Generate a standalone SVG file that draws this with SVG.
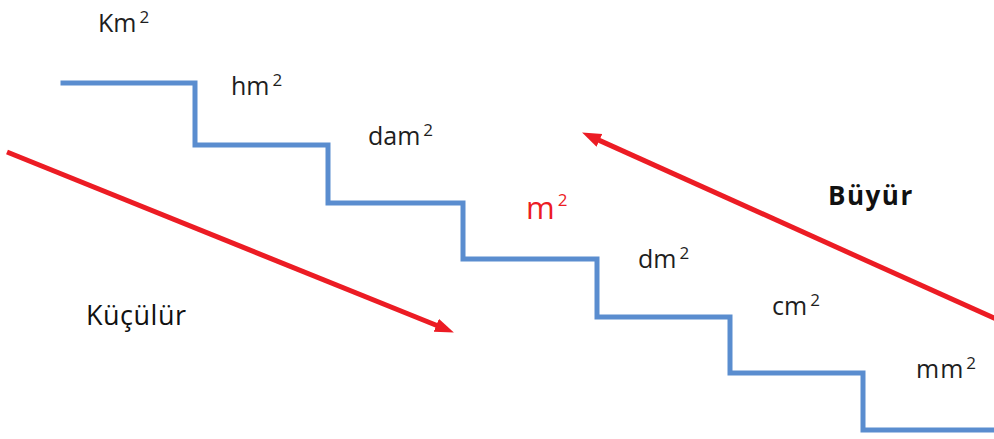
<svg xmlns="http://www.w3.org/2000/svg" width="994" height="439" viewBox="0 0 994 439">
  <style>
    .stairs { fill: none; stroke: #5a8dcf; stroke-width: 5; stroke-linejoin: miter; stroke-linecap: square; }
    .arrow { fill: none; stroke: #ec1c24; stroke-width: 5; }
    .unit { font-family: "Open Sans", "Liberation Sans", sans-serif; font-size: 25px; fill: #1e1e1e; }
    .sup { font-size: 17px; }
    .base { fill: #ec1c24; font-size: 31px; }
    .trend { font-family: "Open Sans", "Liberation Sans", sans-serif; fill: #111; }
  </style>
  <defs>
    <marker id="head" markerUnits="userSpaceOnUse" markerWidth="20" markerHeight="16" refX="8" refY="7" orient="auto">
      <path d="M0,0 L19,7 L0,14 z" fill="#ec1c24"/>
    </marker>
  </defs>
  <rect width="994" height="439" fill="#ffffff"/>

  <!-- staircase of area units -->
  <g id="stairs">
    <polyline class="stairs" points="63,83 195,83 195,145 328,145 328,203 463,203 463,259 597,259 597,317 730,317 730,373 863,373 863,430 996,430"/>
  </g>

  <!-- direction arrows -->
  <g id="connectors">
    <line class="arrow" x1="7" y1="152" x2="443.7" y2="328.3" marker-end="url(#head)"/>
    <line class="arrow" x1="996" y1="319" x2="592.1" y2="137.1" marker-end="url(#head)"/>
  </g>

  <g id="km2"><text class="unit" x="98" y="32">Km<tspan class="sup" dx="3" dy="-9">2</tspan></text></g>
  <g id="hm2"><text class="unit" x="231" y="95">hm<tspan class="sup" dx="3" dy="-9">2</tspan></text></g>
  <g id="dam2"><text class="unit" x="368" y="145">dam<tspan class="sup" dx="3" dy="-9">2</tspan></text></g>
  <g id="m2"><text class="unit base" x="526" y="219">m<tspan class="sup" dx="3" dy="-13">2</tspan></text></g>
  <g id="dm2"><text class="unit" x="638" y="268">dm<tspan class="sup" dx="3" dy="-9">2</tspan></text></g>
  <g id="cm2"><text class="unit" x="772" y="315">cm<tspan class="sup" dx="3" dy="-9">2</tspan></text></g>
  <g id="mm2"><text class="unit" x="916" y="378" letter-spacing="1">mm<tspan class="sup" dx="2" dy="-9">2</tspan></text></g>

  <g id="buyur"><text class="trend" x="828" y="205" font-size="26" font-weight="700" letter-spacing="1.5">Büyür</text></g>
  <g id="kuculur"><text class="trend" x="86" y="325" font-size="27" font-weight="500" letter-spacing="0.5">Küçülür</text></g>
</svg>
